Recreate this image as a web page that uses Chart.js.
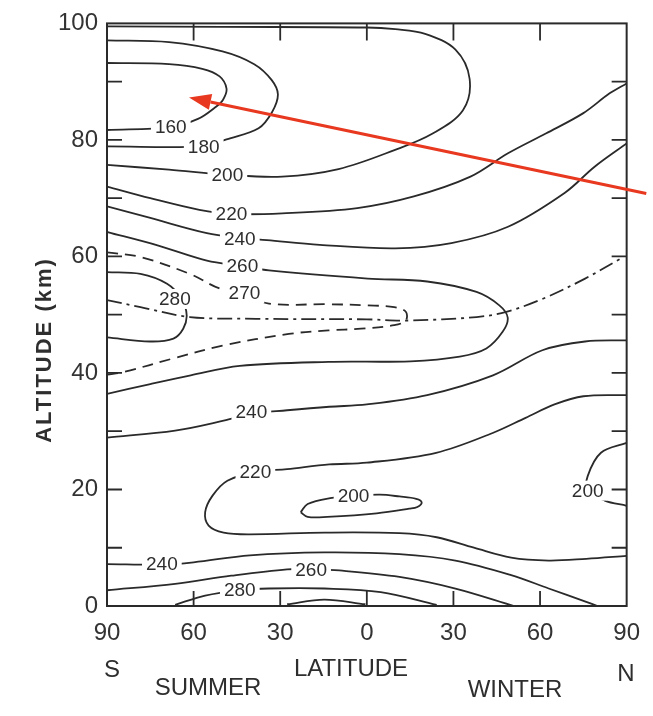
<!DOCTYPE html>
<html>
<head>
<meta charset="utf-8">
<script src="https://cdn.jsdelivr.net/npm/chart.js@4.4.1/dist/chart.umd.min.js"></script>
<style>
  html, body { margin: 0; padding: 0; background: #fff; }
  canvas { display: block; }
</style>
</head>
<body>
<canvas id="chart" width="653" height="716"></canvas>
<script>
// ================= data =================
const latTicks = [-90, -60, -30, 0, 30, 60, 90];
const altTicks = [0, 20, 40, 60, 80, 100];
const altMinor = [10, 20, 30, 40, 50, 60, 70, 80, 90];

// contour lines, [latitude, altitude km]
const iso160 = [[-90,93.2],[-68.5,93.0],[-57,92.2],[-51,90.9],[-48.6,88.8],[-49.8,86.9],[-52.5,85.6],[-58.5,83.6],[-67.9,82.2],[-90,81.7]];
const iso180 = [[-90,97.1],[-68.5,96.8],[-50,95.2],[-39,93],[-33,90.3],[-30.8,87.8],[-32.8,84.8],[-37.5,82],[-48.6,80.1],[-56.5,78.9],[-90,78.9]];
const iso200Top = [[-90,99.5],[-50,99.4],[0,99.3],[9.8,99.0],[20.2,98.2],[30.7,95.5],[35.6,90.5],[33.3,85.1],[22.8,81.1],[9.8,78.3],[-9.8,75.0],[-29.3,73.7],[-48,74.0],[-68.5,74.9],[-90,75.7]];
const iso220Top = [[90,89.7],[84.1,88],[75,84.6],[62,81.1],[48.9,77.7],[35.9,73.7],[16.3,70.3],[-3.3,68.3],[-29.3,67.4],[-47,67.3],[-58,68],[-75,70],[-90,72]];
const iso240Top = [[90,79.4],[78.9,75.4],[68.5,70.9],[48.9,65.1],[29.3,62.3],[9.8,61.4],[-16.3,62],[-34.6,62.8],[-44,63.2],[-55.4,64],[-75,66.6],[-90,68.6]];
const iso260 = [[-90,64.2],[-72.5,61.9],[-55.4,59.3],[-43.1,58.4],[-33.9,57.6],[0.3,56.2],[20.9,55.7],[38,53.9],[45.9,51.6],[48.8,49.5],[47.1,47.1],[41.4,44.2],[32.2,42.8],[15.1,42],[-13.3,41.9],[-44,41.2],[-61,39.6],[-75,38.1],[-90,36.4]];
const iso270 = [[-90,60.7],[-78.4,59.9],[-61.3,57],[-51,54.5],[-42.4,53.6],[-33.9,51.9],[-13.3,51.8],[0.3,51.6],[9.5,51.3],[13.5,50.5],[13.5,49],[9.5,48.2],[-2,47.6],[-13.3,47.3],[-27,46.7],[-50,44.7],[-67,42.5],[-84,40.2],[-90,39.7]];
const iso280 = [[-90,57.3],[-78.4,57],[-69.2,55.3],[-64.1,52.7],[-62.4,49.9],[-63.6,47.6],[-67,45.9],[-75,45.4],[-90,46.1]];
const stratopause = [[-90,52.5],[-78.4,51.3],[-61.3,49.6],[-38.4,49.3],[0,49.2],[14,49],[38,49.6],[48.3,50.5],[60.8,52.7],[75.6,56.2],[88.5,59.8]];
const iso240Mid = [[-90,28.9],[-66.4,30.1],[-49.6,31.8],[-40,33],[-27.6,33.6],[-13,34.2],[0,34.6],[20.9,36.2],[43.7,39.6],[60.8,43.9],[75.6,45.4],[90,45.6]];
const iso220Low = [[90,36.2],[75,36],[65,34.6],[55,32.3],[43.6,29.7],[24,26.3],[0,24.6],[-13,24.3],[-27.6,23.5],[-38.6,23],[-48.3,21.5],[-53.5,18.9],[-56,16.1],[-54.8,13.8],[-49.6,12.6],[-40.5,12.3],[-14.6,12.6],[11.3,12.5],[24.2,11.8],[37.1,10.0],[50,8.3],[63,7.8],[76,8.1],[90,8.6]];
const iso200Core = [[-22.9,16.1],[-20.5,17.5],[-12.7,18.5],[-4.6,18.9],[4.5,19.1],[11.3,18.8],[17.1,18.4],[19,17.8],[17.5,17.0],[14.7,16.7],[3.4,15.9],[-13.7,15.3],[-20.5,15.3],[-22.9,16.1]];
const iso200Pole = [[90,28],[81.1,26.3],[76.5,22.3],[76.5,19.8],[82.4,18.1],[90,17.2]];
const iso240Low = [[-90,7.2],[-70.5,7.1],[-60,7.5],[-40.5,8.7],[-14.7,9.2],[11.3,8.9],[30.7,7.8],[50,5.3],[63,3],[76,0.7],[79.9,0]];
const iso260Low = [[-90,2.7],[-66.4,3.8],[-47,5.2],[-27.6,6.3],[-19.3,6.3],[-9.5,6.1],[11.3,5],[30.7,3],[51,0]];
const iso280Low = [[-66.4,0.2],[-56,1.8],[-44,2.7],[-34,3],[-14.7,3],[4.8,2.4],[24.2,0.2]];
const iso290Arc = [[-27.6,0.3],[-14.7,1.1],[-0.5,0.3]];

const labelText = ["160","180","200","220","240","260","270","280","240","220","200","200","240","260","280"];
const labelLat  = [-67.9, -56.5, -48.3, -46.9, -44, -43.1, -42.4, -66.5, -40, -38.6, -4.6, 76.5, -71, -19.3, -44];
const labelAlt  = [82.3, 78.9, 74.1, 67.3, 63.1, 58.4, 53.7, 52.7, 33.3, 23.1, 19.0, 19.8, 7.3, 6.3, 2.8];

const arrowLat = [96.8, -61.6];
const arrowAlt = [70.8, 87.3];

// ================= styles =================
const FONT = "'Liberation Sans', Arial, sans-serif";
const INK = "#2a2a2a";
const SOLID = [];
const DASH = [11, 7];
const DASHDOT = [15, 5, 3, 5];

const lines = [
  [iso160, SOLID], [iso180, SOLID], [iso200Top, SOLID], [iso220Top, SOLID],
  [iso240Top, SOLID], [iso260, SOLID], [iso270, DASH], [iso280, SOLID],
  [stratopause, DASHDOT], [iso240Mid, SOLID], [iso220Low, SOLID],
  [iso200Core, SOLID], [iso200Pole, SOLID], [iso240Low, SOLID],
  [iso260Low, SOLID], [iso280Low, SOLID], [iso290Arc, SOLID]
];

const datasets = lines.map(([pts, dash]) => ({
  data: pts.map(([x, y]) => ({ x, y })),
  showLine: true,
  borderColor: INK,
  borderWidth: 1.8,
  borderDash: dash,
  pointRadius: 0,
  tension: 0.35,
  fill: false
}));

// ================= decorations =================
const decor = {
  id: "decor",
  afterDatasetsDraw(chart) {
    const { ctx, chartArea: a, scales: { x, y } } = chart;
    ctx.save();

    // contour labels on white boxes
    ctx.font = "19px " + FONT;
    ctx.textAlign = "center";
    ctx.textBaseline = "middle";
    labelText.forEach((t, i) => {
      const px = x.getPixelForValue(labelLat[i]);
      const py = y.getPixelForValue(labelAlt[i]);
      const w = ctx.measureText(t).width + 8;
      ctx.fillStyle = "#fff";
      ctx.fillRect(px - w / 2, py - 10, w, 20);
      ctx.fillStyle = "#2e2e2e";
      ctx.fillText(t, px, py + 1);
    });

    // frame
    ctx.strokeStyle = INK;
    ctx.lineWidth = 2;
    ctx.strokeRect(a.left, a.top, a.right - a.left, a.bottom - a.top);

    // inner ticks
    ctx.lineWidth = 1.8;
    ctx.beginPath();
    latTicks.slice(1, -1).forEach(v => {
      const px = x.getPixelForValue(v);
      ctx.moveTo(px, a.top); ctx.lineTo(px, a.top + 17);
      ctx.moveTo(px, a.bottom); ctx.lineTo(px, a.bottom - 15);
    });
    altMinor.forEach(v => {
      const py = y.getPixelForValue(v);
      ctx.moveTo(a.left, py); ctx.lineTo(a.left + 15, py);
      ctx.moveTo(a.right, py); ctx.lineTo(a.right - 15, py);
    });
    ctx.stroke();
    ctx.restore();
  },
  afterDraw(chart) {
    const { ctx, scales: { x, y } } = chart;
    ctx.save();

    // red arrow
    const x0 = x.getPixelForValue(arrowLat[0]), y0 = y.getPixelForValue(arrowAlt[0]);
    const x1 = x.getPixelForValue(arrowLat[1]), y1 = y.getPixelForValue(arrowAlt[1]);
    const ang = Math.atan2(y1 - y0, x1 - x0);
    const headLen = 22, headW = 8;
    const bx = x1 - headLen * Math.cos(ang), by = y1 - headLen * Math.sin(ang);
    ctx.strokeStyle = "#e8381f";
    ctx.fillStyle = "#e8381f";
    ctx.lineWidth = 3;
    ctx.beginPath();
    ctx.moveTo(x0, y0);
    ctx.lineTo(bx, by);
    ctx.stroke();
    ctx.beginPath();
    ctx.moveTo(x1, y1);
    ctx.lineTo(bx + headW * Math.sin(ang), by - headW * Math.cos(ang));
    ctx.lineTo(bx - headW * Math.sin(ang), by + headW * Math.cos(ang));
    ctx.closePath();
    ctx.fill();

    // axis texts
    ctx.fillStyle = "#2e2e2e";
    ctx.textBaseline = "middle";
    ctx.textAlign = "center";
    ctx.font = "24px " + FONT;
    ctx.fillText("S", 112, 670);
    ctx.fillText("LATITUDE", 351, 669);
    ctx.fillText("N", 626, 674);
    ctx.fillText("SUMMER", 208, 688);
    ctx.fillText("WINTER", 515, 690);

    ctx.translate(45, 350);
    ctx.rotate(-Math.PI / 2);
    ctx.font = "bold 22px " + FONT;
    ctx.letterSpacing = "2px";
    ctx.fillText("ALTITUDE (km)", 0, 0);
    ctx.restore();
  }
};

// ================= chart =================
new Chart(document.getElementById("chart"), {
  type: "scatter",
  data: { datasets },
  options: {
    responsive: false,
    animation: false,
    devicePixelRatio: 1,
    layout: { padding: { top: 21, right: 20, left: 0, bottom: 0 } },
    plugins: { legend: { display: false }, tooltip: { enabled: false } },
    scales: {
      x: {
        type: "linear",
        min: -90,
        max: 90,
        afterBuildTicks: s => { s.ticks = latTicks.map(v => ({ value: v })); },
        afterFit: s => { s.height = 110; },
        grid: { display: false, drawTicks: false },
        border: { display: false },
        ticks: {
          callback: v => Math.abs(v),
          color: "#333",
          font: { size: 24, family: FONT },
          padding: 13,
          maxRotation: 0,
          autoSkip: false
        }
      },
      y: {
        type: "linear",
        min: 0,
        max: 100,
        afterBuildTicks: s => { s.ticks = altTicks.map(v => ({ value: v })); },
        afterFit: s => { s.width = 107; },
        grid: { display: false, drawTicks: false },
        border: { display: false },
        ticks: {
          color: "#333",
          font: { size: 24, family: FONT },
          padding: 9,
          autoSkip: false
        }
      }
    }
  },
  plugins: [decor]
});
</script>
</body>
</html>
